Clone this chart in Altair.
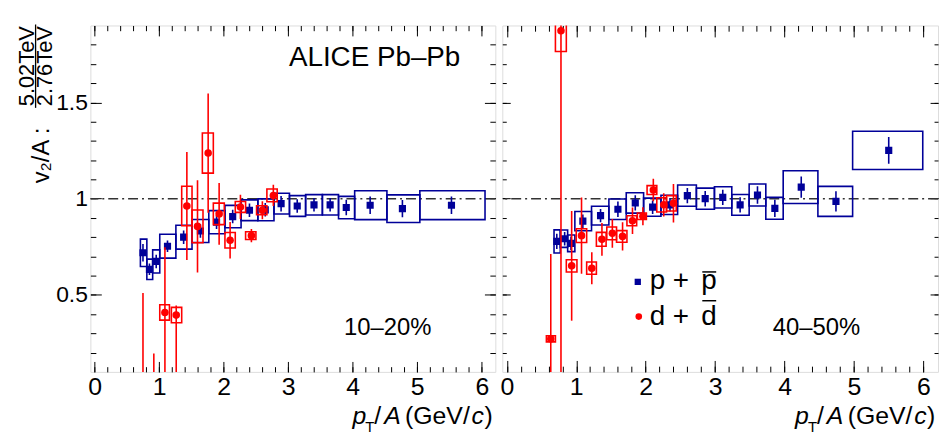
import altair as alt
import pandas as pd

FONT = "Liberation Sans"
BLUE = "#000099"
RED = "#ff0000"

# ---------------- data ----------------
# 10-20 %, p + pbar
p1020_pt = [0.75, 0.85, 0.955, 1.13, 1.38, 1.64, 1.89, 2.14, 2.40, 2.645, 2.89, 3.14, 3.40, 3.65, 3.90, 4.27, 4.77, 5.53]
p1020_v = [0.719, 0.633, 0.674, 0.753, 0.800, 0.832, 0.878, 0.907, 0.940, 0.942, 0.974, 0.962, 0.968, 0.968, 0.954, 0.966, 0.948, 0.966]
p1020_stat = [0.045, 0.03, 0.035, 0.03, 0.035, 0.035, 0.035, 0.035, 0.035, 0.035, 0.04, 0.035, 0.035, 0.035, 0.04, 0.045, 0.045, 0.045]
p1020_sys = [0.071, 0.053, 0.06, 0.062, 0.062, 0.06, 0.06, 0.058, 0.054, 0.057, 0.054, 0.054, 0.053, 0.053, 0.058, 0.075, 0.072, 0.075]
p1020_binlo = [0.71, 0.81, 0.90, 1.01, 1.26, 1.51, 1.77, 2.02, 2.27, 2.53, 2.78, 3.02, 3.27, 3.53, 3.78, 4.03, 4.53, 5.04]
p1020_binhi = [0.81, 0.90, 1.01, 1.26, 1.51, 1.77, 2.02, 2.27, 2.53, 2.78, 3.02, 3.27, 3.53, 3.78, 4.03, 4.53, 5.04, 6.05]

# 10-20 %, d + dbar
d1020_pt = [0.75, 0.918, 1.09, 1.265, 1.43, 1.595, 1.76, 1.93, 2.10, 2.26, 2.43, 2.60, 2.77]
d1020_v = [0.0, -0.1, 0.409, 0.395, 0.962, 0.856, 1.237, 0.921, 0.784, 0.957, 0.808, 0.940, 1.017]
d1020_stat_lo = [0.51, 0.295, 0.338, 0.35, 0.28, 0.24, 0.31, 0.16, 0.095, 0.063, 0.035, 0.047, 0.055]
d1020_stat_hi = [0.51, 0.295, 0.338, 0.05, 0.28, 0.24, 0.31, 0.16, 0.095, 0.063, 0.035, 0.047, 0.055]
d1020_sys = [0.03, 0.03, 0.04, 0.04, 0.103, 0.085, 0.104, 0.056, 0.04, 0.028, 0.02, 0.023, 0.033]
d1020_binlo = [0.69, 0.86, 1.01, 1.19, 1.35, 1.51, 1.67, 1.84, 2.02, 2.18, 2.34, 2.51, 2.67]
d1020_binhi = [0.81, 0.98, 1.16, 1.35, 1.51, 1.68, 1.84, 2.01, 2.18, 2.34, 2.50, 2.67, 2.83]

# 40-50 %, p + pbar
p4050_pt = [0.72, 0.833, 0.924, 1.095, 1.35, 1.60, 1.85, 2.10, 2.35, 2.60, 2.857, 3.11, 3.36, 3.61, 3.86, 4.24, 4.74, 5.50]
p4050_v = [0.778, 0.792, 0.768, 0.883, 0.912, 0.945, 0.978, 0.956, 0.968, 1.016, 1.0, 1.007, 0.968, 1.019, 0.95, 1.06, 0.986, 1.251]
p4050_stat = [0.04, 0.035, 0.035, 0.035, 0.035, 0.04, 0.04, 0.035, 0.035, 0.04, 0.04, 0.04, 0.04, 0.045, 0.045, 0.055, 0.053, 0.07]
p4050_sys = [0.06, 0.045, 0.043, 0.05, 0.049, 0.053, 0.053, 0.047, 0.05, 0.055, 0.055, 0.055, 0.054, 0.057, 0.057, 0.085, 0.078, 0.099]
p4050_binlo = [0.68, 0.77, 0.876, 0.98, 1.22, 1.47, 1.72, 1.97, 2.22, 2.46, 2.73, 2.99, 3.24, 3.49, 3.73, 3.98, 4.48, 4.98]
p4050_binhi = [0.77, 0.876, 0.98, 1.22, 1.47, 1.72, 1.97, 2.22, 2.46, 2.73, 2.99, 3.24, 3.49, 3.73, 3.98, 4.48, 4.98, 5.99]

# 40-50 %, d + dbar
d4050_pt = [0.633, 0.78, 0.934, 1.076, 1.224, 1.37, 1.52, 1.667, 1.81, 1.96, 2.11, 2.26, 2.40]
d4050_v = [0.272, 1.873, 0.651, 0.808, 0.639, 0.789, 0.82, 0.804, 0.885, 0.909, 1.045, 0.968, 0.976]
d4050_stat_lo = [0.44, 1.8, 0.285, 0.198, 0.083, 0.085, 0.075, 0.073, 0.069, 0.047, 0.058, 0.06, 0.1]
d4050_stat_hi = [0.44, 1.8, 0.285, 0.198, 0.083, 0.085, 0.075, 0.073, 0.069, 0.047, 0.058, 0.06, 0.1]
d4050_sys = [0.016, 0.108, 0.032, 0.036, 0.032, 0.036, 0.033, 0.03, 0.026, 0.017, 0.023, 0.037, 0.04]
d4050_binlo = [0.57, 0.70, 0.857, 1.0, 1.15, 1.29, 1.44, 1.58, 1.73, 1.88, 2.02, 2.16, 2.30]
d4050_binhi = [0.70, 0.857, 1.01, 1.15, 1.29, 1.43, 1.58, 1.73, 1.87, 2.01, 2.16, 2.30, 2.44]

# axis setup
XDOM = [-0.065, 6.21]
YDOM = [0.1, 1.9]
x_major = [0, 1, 2, 3, 4, 5, 6]
x_minor = [round(0.2 * i, 1) for i in range(31)]
y_major = [0.5, 1.0, 1.5]
y_minor = [round(0.1 * i, 1) for i in range(2, 19)]

H = 349
W_LEFT = 408
W_RIGHT = 439


def frame_df(pt, v, slo, shi, sys, blo, bhi):
    return pd.DataFrame({
        "pt": pt, "v": v,
        "elo": [a - b for a, b in zip(v, slo)],
        "ehi": [a + b for a, b in zip(v, shi)],
        "slo": [a - b for a, b in zip(v, sys)],
        "shi": [a + b for a, b in zip(v, sys)],
        "blo": blo, "bhi": bhi,
    })


def ax(orient, values, size, labels=False, fs=25, pad=3):
    kw = dict(orient=orient, values=values, tickSize=size, offset=-size,
              domain=False, grid=False, labels=labels, title=None,
              tickColor="black", tickWidth=1)
    if labels:
        kw.update(labelFont=FONT, labelFontSize=fs, labelColor="black",
                  labelPadding=pad, format="~g", labelFlush=False,
                  labelOverlap=False)
    return alt.Axis(**kw)


def txt(text, x, y, size, align="left", italic=False, angle=0, baseline="alphabetic"):
    kw = dict(font=FONT, fontSize=size, align=align, baseline=baseline,
              color="black")
    if italic:
        kw["fontStyle"] = "italic"
    if angle:
        kw["angle"] = angle
    return alt.Chart(pd.DataFrame({"t": [text]})).mark_text(**kw).encode(
        x=alt.value(x), y=alt.value(y), text="t:N")


def one():
    return pd.DataFrame({"a": [0]})


def xtitle(W):
    base = 401.3
    return [
        txt("p", W - 144, base, 25, italic=True),
        txt("T", W - 131, base + 8.5, 15),
        txt("/", W - 122, base, 25),
        txt("A", W - 112, base, 25, italic=True),
        txt("(GeV/", W - 91, base, 25),
        txt("c", W - 24, base, 25, italic=True),
        txt(")", W - 11, base, 25),
    ]


def panel(dp, dd, W, ylabels, xtk, ytk, extra):
    xs = alt.Scale(domain=XDOM, nice=False, zero=False)
    ys = alt.Scale(domain=YDOM, nice=False, zero=False)
    ref = alt.Chart(pd.DataFrame({"r": [1.0]})).mark_rule(
        color="#333333", strokeDash=[10, 4, 2, 4], strokeWidth=1.5
    ).encode(y=alt.Y("r:Q", scale=ys, axis=None))

    pbox = alt.Chart(dp).mark_rect(fillOpacity=0, stroke=BLUE, strokeWidth=1.6, clip=True).encode(
        x=alt.X("blo:Q", scale=xs, axis=ax("bottom", x_major, xtk, labels=True, fs=25, pad=3)),
        x2="bhi:Q",
        y=alt.Y("slo:Q", scale=ys, axis=ax("left", y_major, ytk, labels=ylabels, fs=23, pad=3)),
        y2="shi:Q")
    perr = alt.Chart(dp).mark_rule(color=BLUE, strokeWidth=1.6, clip=True).encode(
        x=alt.X("pt:Q", scale=xs, axis=ax("bottom", x_minor, xtk / 2)),
        y=alt.Y("elo:Q", scale=ys, axis=ax("left", y_minor, ytk / 2)),
        y2="ehi:Q")
    ppt = alt.Chart(dp).mark_square(size=52, color=BLUE, opacity=1, clip=True).encode(
        x=alt.X("pt:Q", scale=xs, axis=ax("top", x_major, xtk)),
        y=alt.Y("v:Q", scale=ys, axis=ax("right", y_major, ytk)))
    dbox = alt.Chart(dd).mark_rect(fillOpacity=0, stroke=RED, strokeWidth=1.6, clip=True).encode(
        x=alt.X("blo:Q", scale=xs, axis=ax("top", x_minor, xtk / 2)),
        x2="bhi:Q",
        y=alt.Y("slo:Q", scale=ys, axis=ax("right", y_minor, ytk / 2)),
        y2="shi:Q")
    derr = alt.Chart(dd).mark_rule(color=RED, strokeWidth=1.6, clip=True).encode(
        x=alt.X("pt:Q", scale=xs, axis=None),
        y=alt.Y("elo:Q", scale=ys, axis=None),
        y2="ehi:Q")
    dpt = alt.Chart(dd).mark_circle(size=58, color=RED, opacity=1, clip=True).encode(
        x=alt.X("pt:Q", scale=xs, axis=None),
        y=alt.Y("v:Q", scale=ys, axis=None))

    layers = [ref, pbox, perr, ppt, dbox, derr, dpt] + xtitle(W) + extra
    return alt.layer(*layers).resolve_axis(x="independent", y="independent").properties(
        width=W, height=H)


dp1 = frame_df(p1020_pt, p1020_v, p1020_stat, p1020_stat, p1020_sys, p1020_binlo, p1020_binhi)
dd1 = frame_df(d1020_pt, d1020_v, d1020_stat_lo, d1020_stat_hi, d1020_sys, d1020_binlo, d1020_binhi)
dp2 = frame_df(p4050_pt, p4050_v, p4050_stat, p4050_stat, p4050_sys, p4050_binlo, p4050_binhi)
dd2 = frame_df(d4050_pt, d4050_v, d4050_stat_lo, d4050_stat_hi, d4050_sys, d4050_binlo, d4050_binhi)

frac_line = alt.Chart(one()).mark_rule(color="black", strokeWidth=1.3).encode(
    x=alt.value(-55.2), y=alt.value(-1), y2=alt.value(83))

# invisible anchor fixing the top-left corner of the whole drawing
anchor = alt.Chart(one()).mark_rect(opacity=0).encode(
    x=alt.value(-82), x2=alt.value(-81), y=alt.value(-14.7), y2=alt.value(-13.7))

left_extra = [
    anchor,
    txt("ALICE Pb\u2013Pb", 200, 40.6, 28),
    txt("10\u201320%", 255.5, 312.3, 24),
    txt("v\u2082/A :", -42, 131, 24, align="center", angle=270),
    txt("5.02TeV", -56.5, 41, 22, align="center", angle=270),
    txt("2.76TeV", -39, 41, 22, align="center", angle=270),
    frac_line,
]

leg_sq = alt.Chart(one()).mark_square(size=40, color=BLUE, opacity=1).encode(
    x=alt.value(136.5), y=alt.value(258.3))
leg_ci = alt.Chart(one()).mark_circle(size=44, color=RED, opacity=1).encode(
    x=alt.value(137.5), y=alt.value(293.3))
ov1 = alt.Chart(one()).mark_rule(color="black", strokeWidth=1.5).encode(
    x=alt.value(201.5), x2=alt.value(215.5), y=alt.value(248.3))
ov2 = alt.Chart(one()).mark_rule(color="black", strokeWidth=1.5).encode(
    x=alt.value(201.5), x2=alt.value(215.5), y=alt.value(277.3))

right_extra = [
    txt("40\u201350%", 272.5, 312.3, 24),
    leg_sq, leg_ci,
    txt("p +", 148.5, 265.6, 28),
    txt("p", 200.5, 265.6, 28),
    txt("d +", 148.5, 301.3, 28),
    txt("d", 200.5, 301.3, 28),
    ov1, ov2,
]

left = panel(dp1, dd1, W_LEFT, True, 10.5, 11, left_extra)
right = panel(dp2, dd2, W_RIGHT, False, 11.5, 8, right_extra)

chart = alt.hconcat(left, right, spacing=2).properties(
    padding={"left": 0, "top": 0, "right": 2, "bottom": 0}
).configure_view(stroke="black", strokeWidth=1.6).configure(font=FONT)

chart.save("out.html", embed_options={"renderer": "svg", "actions": False})
